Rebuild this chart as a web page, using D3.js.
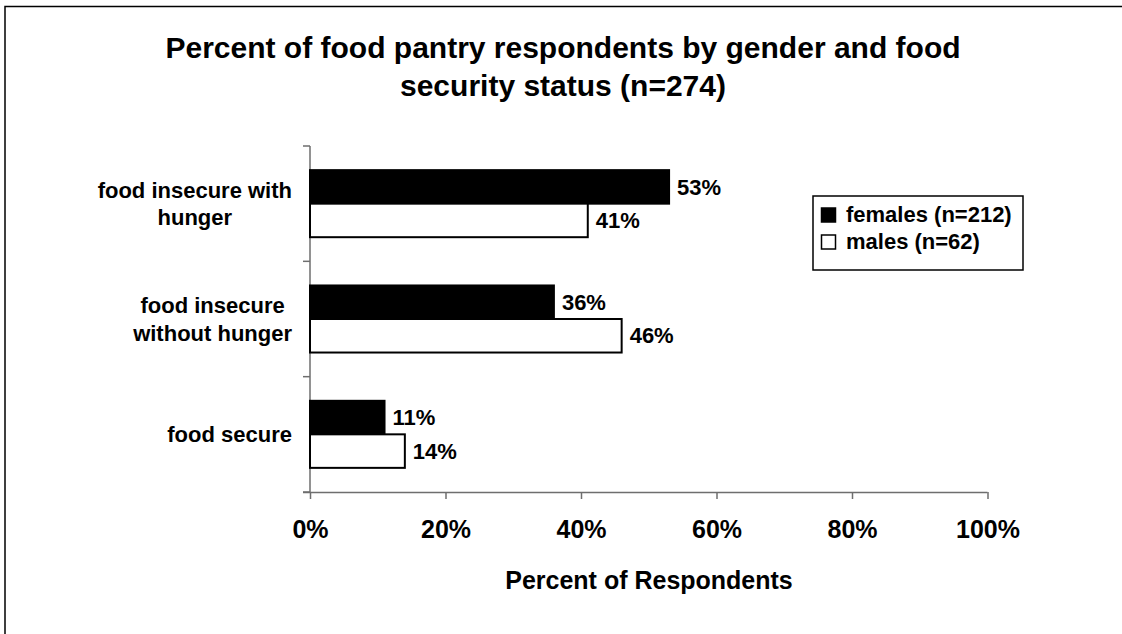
<!DOCTYPE html>
<html>
<head>
<meta charset="utf-8">
<script src="https://cdn.jsdelivr.net/npm/d3@7"></script>
<style>
  html, body { margin: 0; padding: 0; background: #fff; }
  svg { display: block; font-family: "Liberation Sans", Arial, sans-serif; font-weight: bold; }
</style>
</head>
<body>
<svg id="chart" width="1122" height="634"></svg>
<script>
// Food security categories, top to bottom, with wrapped label lines
const categories = ["food insecure with hunger", "food insecure without hunger", "food secure"];
const categoryLines = [["food insecure with", "hunger"], ["food insecure", "without hunger"], ["food secure"]];
const series = ["females (n=212)", "males (n=62)"];
const femaleValues = [53, 36, 11];
const maleValues = [41, 46, 14];
const xTicks = [0, 20, 40, 60, 80, 100];
const titleLines = ["Percent of food pantry respondents by gender and food", "security status (n=274)"];
const xAxisTitle = "Percent of Respondents";

const svg = d3.select("#chart");

// outer chart frame (runs off the right and bottom edges)
svg.append("rect")
  .attr("x", 5).attr("y", 6.5).attr("width", 1300).attr("height", 800)
  .attr("fill", "#fff").attr("stroke", "#000").attr("stroke-width", 1.5);

// title
svg.append("g").selectAll("text").data(titleLines).join("text")
  .attr("x", 563).attr("y", (d, i) => 58 + i * 38)
  .attr("text-anchor", "middle").attr("font-size", 30).attr("fill", "#000")
  .text(d => d);

const plot = { left: 310, right: 987.5, top: 146, bottom: 492 };

const x = d3.scaleLinear().domain([0, 100]).range([plot.left, plot.right]);
const y = d3.scaleBand().domain(categories).range([plot.top, plot.bottom]).padding(0);
const ySeries = d3.scaleBand().domain(series).range([0, y.bandwidth()])
  .paddingInner(0).paddingOuter(0.72);

const axisColor = "#6e6e6e";

// x axis
const xAxis = svg.append("g")
  .attr("transform", `translate(0,${plot.bottom})`)
  .call(d3.axisBottom(x).tickValues(xTicks).tickFormat(d => d + "%").tickSize(7).tickSizeOuter(0).tickPadding(21));
xAxis.select(".domain").remove();
xAxis.append("line").attr("x1", plot.left - 7).attr("x2", plot.right).attr("y1", 0.5).attr("y2", 0.5)
  .attr("stroke", axisColor).attr("stroke-width", 1.5);
xAxis.selectAll(".tick line").attr("stroke", axisColor).attr("stroke-width", 1.5);
xAxis.selectAll(".tick text").attr("font-size", 25).attr("font-family", "Liberation Sans, Arial, sans-serif")
  .attr("font-weight", "bold").attr("fill", "#000");

// y axis with ticks at category boundaries
const boundaries = categories.map(c => y(c)).concat([plot.bottom]);
const yAxis = svg.append("g");
yAxis.append("line").attr("x1", plot.left).attr("x2", plot.left).attr("y1", plot.top).attr("y2", plot.bottom)
  .attr("stroke", axisColor).attr("stroke-width", 1.5);
yAxis.selectAll("line.tk").data(boundaries).join("line").attr("class", "tk")
  .attr("x1", plot.left - 7).attr("x2", plot.left).attr("y1", d => d).attr("y2", d => d)
  .attr("stroke", axisColor).attr("stroke-width", 1.5);

// category labels: each block is right-aligned to the axis, its lines centred within the block
const labelRight = plot.left - 18;
const catG = svg.append("g").selectAll("text").data(categories).join("text")
  .attr("text-anchor", "middle").attr("font-size", 22).attr("fill", "#000");
catG.each(function (d, i) {
  const lines = categoryLines[i];
  const cy = y(d) + y.bandwidth() / 2;
  const lh = 27.5;
  const start = cy - (lines.length - 1) * lh / 2 + 8;
  const spans = d3.select(this).selectAll("tspan").data(lines).join("tspan")
    .attr("y", (l, k) => start + k * lh).text(l => l);
  let maxW = 0;
  spans.each(function () { maxW = Math.max(maxW, this.getComputedTextLength()); });
  spans.attr("x", labelRight - maxW / 2);
});

// bars
const rows = categories.flatMap((c, i) => [
  { cat: c, s: series[0], v: femaleValues[i] },
  { cat: c, s: series[1], v: maleValues[i] }
]);
const fillOf = s => s === series[0] ? "#000" : "#fff";

svg.append("g").selectAll("rect").data(rows).join("rect")
  .attr("x", x(0))
  .attr("y", d => y(d.cat) + ySeries(d.s))
  .attr("width", d => x(d.v) - x(0))
  .attr("height", ySeries.bandwidth())
  .attr("fill", d => fillOf(d.s))
  .attr("stroke", "#000").attr("stroke-width", 2);

// value labels
svg.append("g").selectAll("text").data(rows).join("text")
  .attr("x", d => x(d.v) + 8)
  .attr("y", d => y(d.cat) + ySeries(d.s) + ySeries.bandwidth() / 2)
  .attr("dy", "0.35em").attr("font-size", 22).attr("fill", "#000")
  .text(d => d.v + "%");

// x axis title
svg.append("text").attr("x", 649).attr("y", 589).attr("text-anchor", "middle")
  .attr("font-size", 25).attr("fill", "#000").text(xAxisTitle);

// legend
const legend = svg.append("g").attr("transform", "translate(813,196)");
legend.append("rect").attr("width", 210).attr("height", 74)
  .attr("fill", "#fff").attr("stroke", "#000").attr("stroke-width", 1.5);
const li = legend.selectAll("g").data(series).join("g")
  .attr("transform", (d, i) => `translate(0,${12 + i * 27})`);
li.append("rect").attr("x", 8.5).attr("y", 0).attr("width", 14).attr("height", 14)
  .attr("fill", d => fillOf(d)).attr("stroke", "#000").attr("stroke-width", 1.5);
li.append("text").attr("x", 33).attr("y", 14).attr("font-size", 22).attr("fill", "#000").text(d => d);
</script>
</body>
</html>
